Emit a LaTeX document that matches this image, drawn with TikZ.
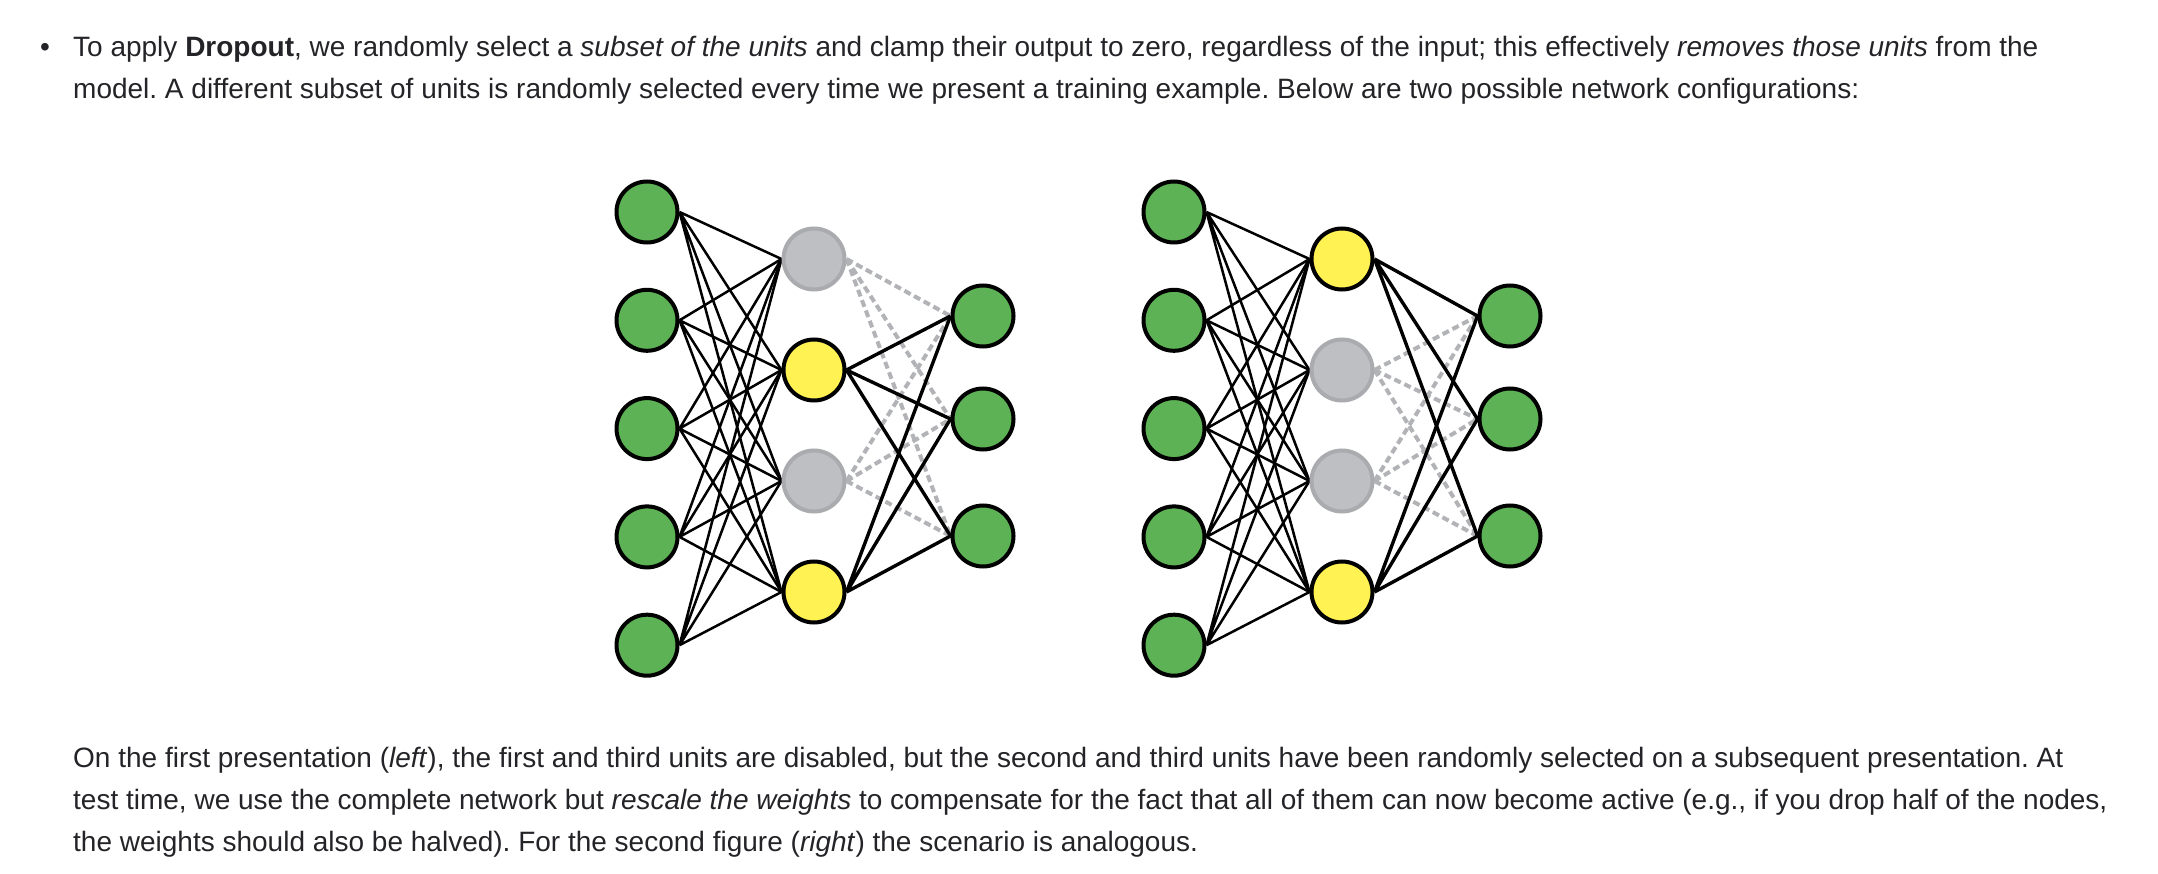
\documentclass[tikz,border=0pt]{standalone}
\usepackage{fontspec}
\setmainfont{Liberation Sans}
\usetikzlibrary{backgrounds}
\definecolor{unitgreen}{RGB}{92,178,84}
\definecolor{unityellow}{RGB}{255,242,82}
\definecolor{dropfill}{RGB}{190,191,194}
\definecolor{dropedge}{RGB}{170,171,174}
\definecolor{dropline}{RGB}{178,179,182}
\definecolor{bodytext}{RGB}{36,36,40}
\frenchspacing

\begin{document}
\begin{tikzpicture}[x=1pt,y=-1pt,node distance={108.3pt},
    unit/.style={draw, circle, line width=4pt, minimum size=61pt, inner sep=0pt},
    inp/.style={unit, fill=unitgreen},
    act/.style={unit, fill=unityellow},
    off/.style={unit, draw=dropedge, fill=dropfill},
    wire/.style={line width=2.5pt},
    wout/.style={line width=3.4pt},
    wdrop/.style={line width=4pt, draw=dropline, dash pattern=on 7pt off 4pt},
    para/.style={anchor=base west, inner sep=0pt, text=bodytext, font=\fontsize{28}{32}\selectfont}]
    \useasboundingbox (0,0) rectangle (2158,874);

    % text above
    \node[para, anchor=base] (dot) at (45,57) {\textbullet};
    \node[para] (t1) at (73,57) {To apply \textbf{Dropout}, we randomly select a \textit{subset of the units} and clamp their output to zero, regardless of the input; this effectively \textit{removes those units} from the};
    \node[para] (t2) at (73,99) {model. A different subset of units is randomly selected every time we present a training example. Below are two possible network configurations:};

    % left network
    \node[inp] (li1) at (647,212) {};
    \node[inp] (li2) [below of=li1] {};
    \node[inp] (li3) [below of=li2] {};
    \node[inp] (li4) [below of=li3] {};
    \node[inp] (li5) [below of=li4] {};
    \node[off] (lh1) at (814,259) {};
    \node[act] (lh2) [below of=lh1, node distance=111pt] {};
    \node[off] (lh3) [below of=lh2, node distance=111pt] {};
    \node[act] (lh4) [below of=lh3, node distance=111pt] {};
    \node[inp] (lo1) at (983,316) {};
    \node[inp] (lo2) [below of=lo1, node distance=103pt] {};
    \node[inp] (lo3) [below of=lo2, node distance=117pt] {};

    % right network
    \node[inp] (ri1) at (1174,212) {};
    \node[inp] (ri2) [below of=ri1] {};
    \node[inp] (ri3) [below of=ri2] {};
    \node[inp] (ri4) [below of=ri3] {};
    \node[inp] (ri5) [below of=ri4] {};
    \node[act] (rh1) at (1342,259) {};
    \node[off] (rh2) [below of=rh1, node distance=111pt] {};
    \node[off] (rh3) [below of=rh2, node distance=111pt] {};
    \node[act] (rh4) [below of=rh3, node distance=111pt] {};
    \node[inp] (ro1) at (1510,316) {};
    \node[inp] (ro2) [below of=ro1, node distance=103pt] {};
    \node[inp] (ro3) [below of=ro2, node distance=117pt] {};

    % text below
    \node[para] (b1) at (73,767) {On the first presentation (\textit{left}), the first and third units are disabled, but the second and third units have been randomly selected on a subsequent presentation. At};
    \node[para] (b2) at (73,809) {test time, we use the complete network but \textit{rescale the weights} to compensate for the fact that all of them can now become active (e.g., if you drop half of the nodes,};
    \node[para] (b3) at (73,851) {the weights should also be halved). For the second figure (\textit{right}) the scenario is analogous.};

    \begin{scope}[on background layer]
        \fill[white] (0,0) rectangle (2158,874);
        % dropped units
        \draw[wdrop] (lh1.east) -- (lo1.west) (lh1.east) -- (lo2.west) (lh1.east) -- (lo3.west);
        \draw[wdrop] (lh3.east) -- (lo1.west) (lh3.east) -- (lo2.west) (lh3.east) -- (lo3.west);
        \draw[wdrop] (rh2.east) -- (ro1.west) (rh2.east) -- (ro2.west) (rh2.east) -- (ro3.west);
        \draw[wdrop] (rh3.east) -- (ro1.west) (rh3.east) -- (ro2.west) (rh3.east) -- (ro3.west);
        % left: input to hidden
        \draw[wire] (li1.east) -- (lh1.west) (li1.east) -- (lh2.west) (li1.east) -- (lh3.west) (li1.east) -- (lh4.west);
        \draw[wire] (li2.east) -- (lh1.west) (li2.east) -- (lh2.west) (li2.east) -- (lh3.west) (li2.east) -- (lh4.west);
        \draw[wire] (li3.east) -- (lh1.west) (li3.east) -- (lh2.west) (li3.east) -- (lh3.west) (li3.east) -- (lh4.west);
        \draw[wire] (li4.east) -- (lh1.west) (li4.east) -- (lh2.west) (li4.east) -- (lh3.west) (li4.east) -- (lh4.west);
        \draw[wire] (li5.east) -- (lh1.west) (li5.east) -- (lh2.west) (li5.east) -- (lh3.west) (li5.east) -- (lh4.west);
        % left: hidden to output
        \draw[wout] (lh2.east) -- (lo1.west) (lh2.east) -- (lo2.west) (lh2.east) -- (lo3.west);
        \draw[wout] (lh4.east) -- (lo1.west) (lh4.east) -- (lo2.west) (lh4.east) -- (lo3.west);
        % right: input to hidden
        \draw[wire] (ri1.east) -- (rh1.west) (ri1.east) -- (rh2.west) (ri1.east) -- (rh3.west) (ri1.east) -- (rh4.west);
        \draw[wire] (ri2.east) -- (rh1.west) (ri2.east) -- (rh2.west) (ri2.east) -- (rh3.west) (ri2.east) -- (rh4.west);
        \draw[wire] (ri3.east) -- (rh1.west) (ri3.east) -- (rh2.west) (ri3.east) -- (rh3.west) (ri3.east) -- (rh4.west);
        \draw[wire] (ri4.east) -- (rh1.west) (ri4.east) -- (rh2.west) (ri4.east) -- (rh3.west) (ri4.east) -- (rh4.west);
        \draw[wire] (ri5.east) -- (rh1.west) (ri5.east) -- (rh2.west) (ri5.east) -- (rh3.west) (ri5.east) -- (rh4.west);
        % right: hidden to output
        \draw[wout] (rh1.east) -- (ro1.west) (rh1.east) -- (ro2.west) (rh1.east) -- (ro3.west);
        \draw[wout] (rh4.east) -- (ro1.west) (rh4.east) -- (ro2.west) (rh4.east) -- (ro3.west);
    \end{scope}
\end{tikzpicture}
\end{document}
